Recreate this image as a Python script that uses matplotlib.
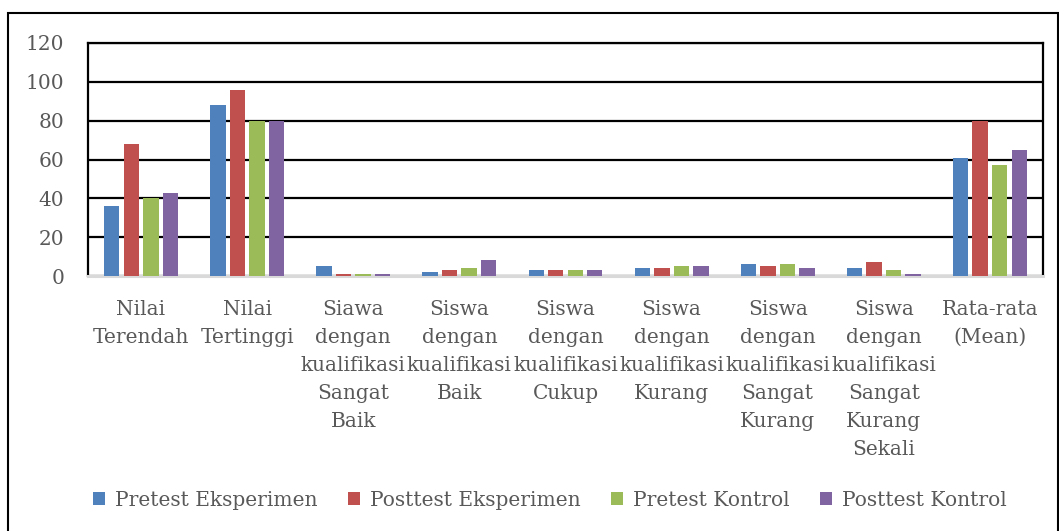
import matplotlib.pyplot as plt
import numpy as np
from matplotlib.patches import Rectangle

categories = ["Nilai\nTerendah", "Nilai\nTertinggi",
              "Siawa\ndengan\nkualifikasi\nSangat\nBaik",
              "Siswa\ndengan\nkualifikasi\nBaik",
              "Siswa\ndengan\nkualifikasi\nCukup",
              "Siswa\ndengan\nkualifikasi\nKurang",
              "Siswa\ndengan\nkualifikasi\nSangat\nKurang",
              "Siswa\ndengan\nkualifikasi\nSangat\nKurang\nSekali",
              "Rata-rata\n(Mean)"]
series_names = ["Pretest Eksperimen", "Posttest Eksperimen", "Pretest Kontrol", "Posttest Kontrol"]
pretest_eks = [36, 88, 5, 2, 3, 4, 6, 4, 61]
posttest_eks = [68, 96, 1, 3, 3, 4, 5, 7, 80]
pretest_kon = [40, 80, 1, 4, 3, 5, 6, 3, 57]
posttest_kon = [43, 80, 1, 8, 3, 5, 4, 1, 65]
colors = ["#4F81BD", "#C0504D", "#9BBB59", "#8064A2"]

plt.rcParams['font.family'] = ['DejaVu Serif']
text_color = '#595959'

fig = plt.figure(figsize=(10.59, 5.31), dpi=100)
W, H = 1059, 531
ax = fig.add_axes([88 / W, (H - 276) / H, (1043 - 88) / W, (276 - 43) / H])

# outer chart border
fig.patches.append(Rectangle((8 / W, -0.01), (1058 - 8) / W, (H - 13) / H + 0.01,
                             transform=fig.transFigure, fill=False,
                             edgecolor='black', linewidth=1.5))

x = np.arange(len(categories))
step = 0.184
width = 0.145
all_vals = [pretest_eks, posttest_eks, pretest_kon, posttest_kon]
for i, vals in enumerate(all_vals):
    ax.bar(x + (i - 1.5) * step, vals, width, color=colors[i], label=series_names[i], zorder=3)

ax.set_xlim(-0.5, len(categories) - 0.5)
ax.set_ylim(0, 120)
ax.set_yticks(range(0, 121, 20))
ax.yaxis.grid(True, color='black', linewidth=1.6, zorder=0)
ax.set_axisbelow(True)
ax.set_xticks(x)
ax.set_xticklabels(categories, linespacing=1.6)
ax.tick_params(axis='x', length=0, pad=17, labelsize=14.5, labelcolor=text_color)
ax.tick_params(axis='y', length=0, pad=17, labelsize=14.5, labelcolor=text_color)

for side in ['left', 'right', 'top']:
    ax.spines[side].set_color('black')
    ax.spines[side].set_linewidth(1.6)
ax.spines['bottom'].set_color('#d9d9d9')
ax.spines['bottom'].set_linewidth(2.2)

leg = fig.legend(loc='center', bbox_to_anchor=(550 / W, (H - 500) / H), ncol=4,
                 frameon=False, fontsize=14.5, handlelength=0.6, handleheight=0.6,
                 handletextpad=0.5, columnspacing=1.5)
for t in leg.get_texts():
    t.set_color(text_color)

fig.savefig('out.png', dpi=100)
